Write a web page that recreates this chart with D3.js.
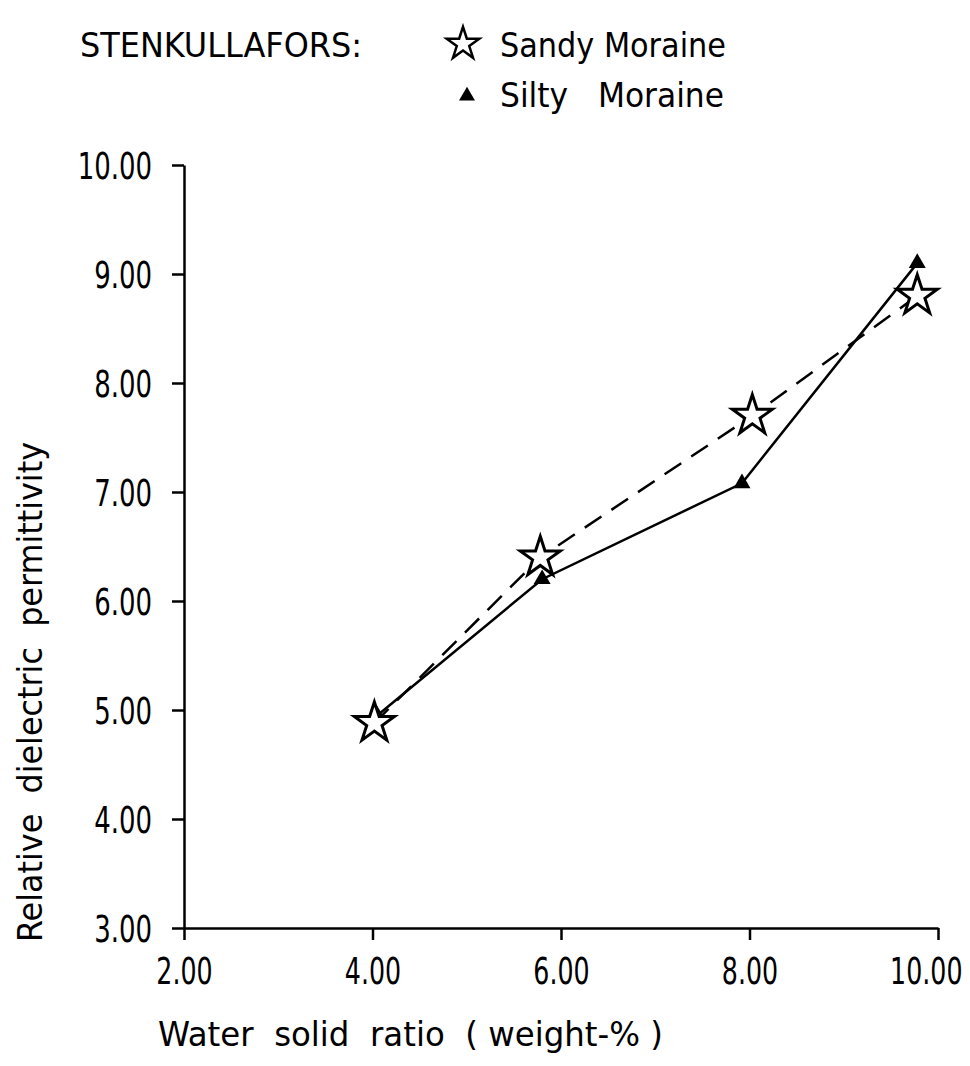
<!DOCTYPE html>
<html>
<head>
<meta charset="utf-8">
<script src="https://cdn.jsdelivr.net/npm/d3@7"></script>
<style>
  body { margin: 0; background: #fff; }
  svg text { font-family: "DejaVu Sans Condensed", "DejaVu Sans", sans-serif; fill: #000; }
</style>
</head>
<body>
<div id="container"></div>
<script>
// data
const sandyX = [4.02, 5.78, 8.03, 9.78];
const sandyY = [4.88, 6.40, 7.70, 8.80];
const siltyX = [4.05, 5.80, 7.92, 9.78];
const siltyY = [4.95, 6.20, 7.08, 9.10];
const xTicks = [2, 4, 6, 8, 10];
const yTicks = [3, 4, 5, 6, 7, 8, 9, 10];

const width = 970,
  height = 1066;

const svg = d3.select("#container")
  .append("svg")
  .attr("width", width)
  .attr("height", height);

const x = d3.scaleLinear().domain([2, 10]).range([184, 938]);
const y = d3.scaleLinear().domain([3, 10]).range([928, 165]);

const fmt = d3.format(".2f");
const fitTo = (sel, len) =>
  sel.attr("textLength", len).attr("lengthAdjust", "spacingAndGlyphs");

// axes
const xAxis = d3.axisBottom(x)
  .tickValues(xTicks)
  .tickFormat(fmt)
  .tickSizeInner(12)
  .tickSizeOuter(0)
  .tickPadding(18);

const yAxis = d3.axisLeft(y)
  .tickValues(yTicks)
  .tickFormat(fmt)
  .tickSizeInner(12)
  .tickSizeOuter(0)
  .tickPadding(20);

const gx = svg.append("g")
  .attr("transform", `translate(0, ${y(3)})`)
  .call(xAxis);

const gy = svg.append("g")
  .attr("transform", `translate(${x(2)}, 0)`)
  .call(yAxis);

[gx, gy].forEach(g => {
  g.select(".domain").attr("stroke", "#000").attr("stroke-width", 2.5);
  g.selectAll(".tick line").attr("stroke", "#000").attr("stroke-width", 2.5);
  g.selectAll(".tick text")
    .attr("font-size", 37)
    .attr("font-family", null)
    .attr("fill", "#000");
});

// narrow lettering: scale the labels horizontally around their anchor
const kx = 0.76, ky = 0.78;
gx.selectAll(".tick text")
  .attr("transform", `scale(${kx},1)`);
gx.selectAll(".tick text")
  .filter(d => d === 10)
  .attr("text-anchor", "end")
  .attr("x", (width - 8 - x(10)) / kx);
gy.selectAll(".tick text")
  .attr("dy", "0.36em")
  .attr("x", -32 / ky)
  .attr("transform", `scale(${ky},1)`);

// lines
const line = d3.line().x(d => x(d[0])).y(d => y(d[1]));
const silty = siltyX.map((v, i) => [v, siltyY[i]]);
const sandy = sandyX.map((v, i) => [v, sandyY[i]]);

svg.append("path")
  .datum(silty)
  .attr("d", line)
  .attr("fill", "none")
  .attr("stroke", "#000")
  .attr("stroke-width", 2.5);

svg.append("path")
  .datum(sandy)
  .attr("d", line)
  .attr("fill", "none")
  .attr("stroke", "#000")
  .attr("stroke-width", 2.5)
  .attr("stroke-dasharray", "20,12");

const star = d3.symbol().type(d3.symbolStar).size(500);
const tri = d3.symbol().type(d3.symbolTriangle).size(125);

svg.selectAll(".tri")
  .data(silty)
  .enter()
  .append("path")
  .attr("class", "tri")
  .attr("d", tri)
  .attr("transform", d => `translate(${x(d[0])}, ${y(d[1])})`)
  .attr("fill", "#000");

svg.selectAll(".star")
  .data(sandy)
  .enter()
  .append("path")
  .attr("class", "star")
  .attr("d", star)
  .attr("transform", d => `translate(${x(d[0])}, ${y(d[1])})`)
  .attr("fill", "#fff")
  .attr("stroke", "#000")
  .attr("stroke-width", 3);

// legend
svg.append("text")
  .attr("x", 80)
  .attr("y", 57)
  .attr("font-size", 33)
  .text("STENKULLAFORS:")
  .call(fitTo, 282);

svg.append("path")
  .attr("d", d3.symbol().type(d3.symbolStar).size(330))
  .attr("transform", "translate(463, 44)")
  .attr("fill", "#fff")
  .attr("stroke", "#000")
  .attr("stroke-width", 2.5);

svg.append("text")
  .attr("x", 500)
  .attr("y", 57)
  .attr("font-size", 33)
  .text("Sandy Moraine")
  .call(fitTo, 226);

svg.append("path")
  .attr("d", d3.symbol().type(d3.symbolTriangle).size(110))
  .attr("transform", "translate(467, 96)")
  .attr("fill", "#000");

svg.append("text")
  .attr("x", 500)
  .attr("y", 107)
  .attr("font-size", 33)
  .attr("xml:space", "preserve")
  .text("Silty   Moraine")
  .call(fitTo, 224);

// axis titles
svg.append("text")
  .attr("x", 158)
  .attr("y", 1046)
  .attr("font-size", 34)
  .attr("xml:space", "preserve")
  .text("Water  solid  ratio  ( weight-% )")
  .call(fitTo, 505);

svg.append("text")
  .attr("transform", "translate(42, 692) rotate(-90)")
  .attr("text-anchor", "middle")
  .attr("font-size", 34)
  .attr("xml:space", "preserve")
  .text("Relative  dielectric  permittivity")
  .call(fitTo, 500);
</script>
</body>
</html>
